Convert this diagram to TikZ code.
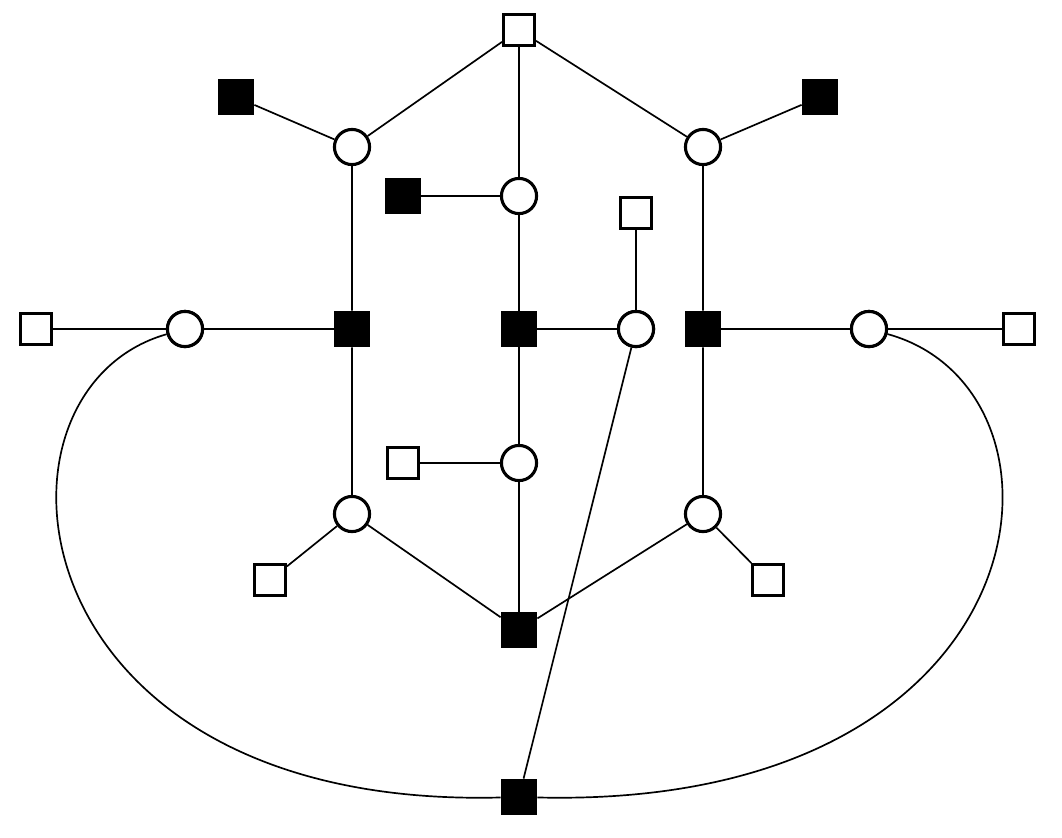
\documentclass[tikz,border=0pt]{standalone}
\usepackage{tikz}
\tikzstyle{Var}=[circle, minimum size=25pt, inner sep=0, draw=black, line width=2.2pt, fill=white]
\tikzstyle{Open}=[rectangle, minimum size=22pt, inner sep=0, draw=black, line width=2.2pt, fill=white]
\tikzstyle{Fact}=[rectangle, minimum size=25pt, inner sep=0, draw=black, fill=black]
\begin{document}
\begin{tikzpicture}[x=0.025cm, y=-0.025cm, line width=1.2pt]
    \useasboundingbox (0,0) rectangle (1062,837);
    \path
    (519,30) node[Open] (top) {}
    (236,97) node[Fact] (fl) {}
    (820,97) node[Fact] (fr) {}
    (352,147) node[Var] (vl) {}
    (703,147) node[Var] (vr) {}
    (403,196) node[Fact] (fm) {}
    (519,196) node[Var] (vm) {}
    (636,213) node[Open] (om) {}
    (36,329) node[Open] (ol) {}
    (185,329) node[Var] (wl) {}
    (352,329) node[Fact] (gl) {}
    (519,329) node[Fact] (gm) {}
    (636,329) node[Var] (wm) {}
    (703,329) node[Fact] (gr) {}
    (869,329) node[Var] (wr) {}
    (1019,329) node[Open] (or) {}
    (403,463) node[Open] (ob) {}
    (519,463) node[Var] (ub) {}
    (352,514) node[Var] (ul) {}
    (703,514) node[Var] (ur) {}
    (270,580) node[Open] (pl) {}
    (768,580) node[Open] (pr) {}
    (519,630) node[Fact] (hb) {}
    (519,797) node[Fact] (bot) {};

    \draw (vl) -- (top) -- (vr);
    \draw (top) -- (vm) -- (gm) -- (ub) -- (hb);
    \draw (fl) -- (vl) -- (gl) -- (ul) -- (hb) -- (ur) -- (gr) -- (vr) -- (fr);
    \draw (fm) -- (vm);
    \draw (ol) -- (wl) -- (gl);
    \draw (gm) -- (wm) -- (om);
    \draw (gr) -- (wr) -- (or);
    \draw (ob) -- (ub);
    \draw (pl) -- (ul);
    \draw (pr) -- (ur);
    \draw (wm) -- (bot);
    \draw (wl) .. controls (-30,390) and (10,810) .. (bot);
    \draw (wr) .. controls (1092,390) and (1052,810) .. (bot);
    % redraw nodes over the curves
    \path (wl) node[Var] {} (wr) node[Var] {} (wm) node[Var] {} (bot) node[Fact] {};
\end{tikzpicture}
\end{document}
